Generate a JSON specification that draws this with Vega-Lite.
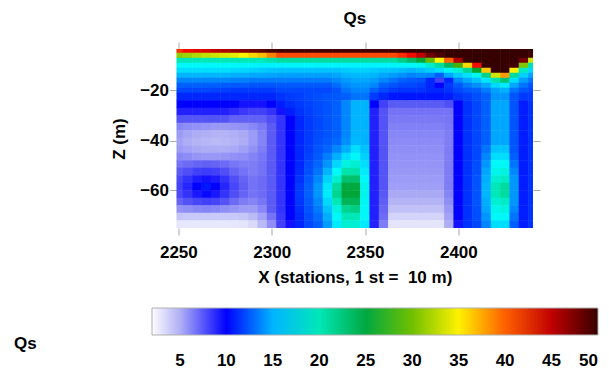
{
"$schema": "https://vega.github.io/schema/vega-lite/v6.json",
"width": 356.5,
"height": 179,
"autosize": {"type": "none"},
"padding": {"left": 176.5, "top": 49, "right": 76, "bottom": 146},
"background": "white",
"config": {"view": {"stroke": null}, "font": "Liberation Sans"},
"title": {"text": "Qs", "fontSize": 17, "fontWeight": "bold", "color": "black", "anchor": "middle", "frame": "group", "offset": 14},
"data": {"values": [
{"x":2250,"z":-4,"q":42},{"x":2250,"z":-6,"q":31},{"x":2250,"z":-8,"q":20},{"x":2250,"z":-10,"q":17.5},{"x":2250,"z":-12,"q":16.5},{"x":2250,"z":-14,"q":15},{"x":2250,"z":-16,"q":13.5},{"x":2250,"z":-18,"q":12.5},{"x":2250,"z":-20,"q":11.5},{"x":2250,"z":-22.5,"q":10.5},{"x":2250,"z":-25.5,"q":10},{"x":2250,"z":-28.5,"q":9.5},{"x":2250,"z":-31.5,"q":7.8},{"x":2250,"z":-34.5,"q":6.2},{"x":2250,"z":-37.5,"q":5.6},{"x":2250,"z":-40.5,"q":5.4},{"x":2250,"z":-43.5,"q":5.6},{"x":2250,"z":-46.5,"q":6.2},{"x":2250,"z":-49.5,"q":6.8},{"x":2250,"z":-52.5,"q":7.5},{"x":2250,"z":-55.5,"q":8.2},{"x":2250,"z":-58.5,"q":8.5},{"x":2250,"z":-61.5,"q":8.2},{"x":2250,"z":-64.5,"q":7.2},{"x":2250,"z":-67.5,"q":5.8},{"x":2250,"z":-70.5,"q":4.4},{"x":2250,"z":-73.5,"q":3.4},
{"x":2255,"z":-4,"q":43},{"x":2255,"z":-6,"q":31.5},{"x":2255,"z":-8,"q":20},{"x":2255,"z":-10,"q":17.5},{"x":2255,"z":-12,"q":16.5},{"x":2255,"z":-14,"q":15},{"x":2255,"z":-16,"q":13.5},{"x":2255,"z":-18,"q":12.5},{"x":2255,"z":-20,"q":11.5},{"x":2255,"z":-22.5,"q":10.5},{"x":2255,"z":-25.5,"q":10},{"x":2255,"z":-28.5,"q":9.5},{"x":2255,"z":-31.5,"q":7.8},{"x":2255,"z":-34.5,"q":6},{"x":2255,"z":-37.5,"q":5.3},{"x":2255,"z":-40.5,"q":5.1},{"x":2255,"z":-43.5,"q":5.4},{"x":2255,"z":-46.5,"q":6},{"x":2255,"z":-49.5,"q":7},{"x":2255,"z":-52.5,"q":8},{"x":2255,"z":-55.5,"q":9},{"x":2255,"z":-58.5,"q":9.4},{"x":2255,"z":-61.5,"q":9},{"x":2255,"z":-64.5,"q":7.8},{"x":2255,"z":-67.5,"q":6},{"x":2255,"z":-70.5,"q":4.3},{"x":2255,"z":-73.5,"q":3.3},
{"x":2260,"z":-4,"q":43.5},{"x":2260,"z":-6,"q":32},{"x":2260,"z":-8,"q":20},{"x":2260,"z":-10,"q":17.5},{"x":2260,"z":-12,"q":16.5},{"x":2260,"z":-14,"q":15},{"x":2260,"z":-16,"q":13.5},{"x":2260,"z":-18,"q":12.5},{"x":2260,"z":-20,"q":11.5},{"x":2260,"z":-22.5,"q":10.5},{"x":2260,"z":-25.5,"q":10},{"x":2260,"z":-28.5,"q":9.5},{"x":2260,"z":-31.5,"q":7.8},{"x":2260,"z":-34.5,"q":5.9},{"x":2260,"z":-37.5,"q":5.1},{"x":2260,"z":-40.5,"q":4.9},{"x":2260,"z":-43.5,"q":5.2},{"x":2260,"z":-46.5,"q":5.8},{"x":2260,"z":-49.5,"q":7.2},{"x":2260,"z":-52.5,"q":8.5},{"x":2260,"z":-55.5,"q":9.6},{"x":2260,"z":-58.5,"q":10},{"x":2260,"z":-61.5,"q":9.7},{"x":2260,"z":-64.5,"q":8.3},{"x":2260,"z":-67.5,"q":6.2},{"x":2260,"z":-70.5,"q":4.3},{"x":2260,"z":-73.5,"q":3.3},
{"x":2265,"z":-4,"q":44},{"x":2265,"z":-6,"q":32.5},{"x":2265,"z":-8,"q":20},{"x":2265,"z":-10,"q":17.5},{"x":2265,"z":-12,"q":16.5},{"x":2265,"z":-14,"q":15},{"x":2265,"z":-16,"q":13.5},{"x":2265,"z":-18,"q":12.5},{"x":2265,"z":-20,"q":11.5},{"x":2265,"z":-22.5,"q":10.5},{"x":2265,"z":-25.5,"q":10},{"x":2265,"z":-28.5,"q":9.5},{"x":2265,"z":-31.5,"q":7.8},{"x":2265,"z":-34.5,"q":5.8},{"x":2265,"z":-37.5,"q":5},{"x":2265,"z":-40.5,"q":4.8},{"x":2265,"z":-43.5,"q":5.1},{"x":2265,"z":-46.5,"q":5.7},{"x":2265,"z":-49.5,"q":7.3},{"x":2265,"z":-52.5,"q":8.7},{"x":2265,"z":-55.5,"q":9.8},{"x":2265,"z":-58.5,"q":10.2},{"x":2265,"z":-61.5,"q":9.9},{"x":2265,"z":-64.5,"q":8.5},{"x":2265,"z":-67.5,"q":6.3},{"x":2265,"z":-70.5,"q":4.3},{"x":2265,"z":-73.5,"q":3.3},
{"x":2270,"z":-4,"q":45},{"x":2270,"z":-6,"q":33},{"x":2270,"z":-8,"q":20},{"x":2270,"z":-10,"q":17.5},{"x":2270,"z":-12,"q":16.5},{"x":2270,"z":-14,"q":15},{"x":2270,"z":-16,"q":13.5},{"x":2270,"z":-18,"q":12.5},{"x":2270,"z":-20,"q":11.3},{"x":2270,"z":-22.5,"q":10.5},{"x":2270,"z":-25.5,"q":10},{"x":2270,"z":-28.5,"q":9.5},{"x":2270,"z":-31.5,"q":7.8},{"x":2270,"z":-34.5,"q":5.7},{"x":2270,"z":-37.5,"q":4.9},{"x":2270,"z":-40.5,"q":4.7},{"x":2270,"z":-43.5,"q":5.1},{"x":2270,"z":-46.5,"q":5.7},{"x":2270,"z":-49.5,"q":7.2},{"x":2270,"z":-52.5,"q":8.5},{"x":2270,"z":-55.5,"q":9.6},{"x":2270,"z":-58.5,"q":10},{"x":2270,"z":-61.5,"q":9.7},{"x":2270,"z":-64.5,"q":8.3},{"x":2270,"z":-67.5,"q":6.2},{"x":2270,"z":-70.5,"q":4.3},{"x":2270,"z":-73.5,"q":3.3},
{"x":2275,"z":-4,"q":45.5},{"x":2275,"z":-6,"q":33.5},{"x":2275,"z":-8,"q":20},{"x":2275,"z":-10,"q":17.5},{"x":2275,"z":-12,"q":16.5},{"x":2275,"z":-14,"q":15},{"x":2275,"z":-16,"q":13.5},{"x":2275,"z":-18,"q":12.3},{"x":2275,"z":-20,"q":11.2},{"x":2275,"z":-22.5,"q":10.5},{"x":2275,"z":-25.5,"q":10},{"x":2275,"z":-28.5,"q":9.5},{"x":2275,"z":-31.5,"q":7.8},{"x":2275,"z":-34.5,"q":5.7},{"x":2275,"z":-37.5,"q":4.9},{"x":2275,"z":-40.5,"q":4.8},{"x":2275,"z":-43.5,"q":5.1},{"x":2275,"z":-46.5,"q":5.8},{"x":2275,"z":-49.5,"q":7},{"x":2275,"z":-52.5,"q":8},{"x":2275,"z":-55.5,"q":9},{"x":2275,"z":-58.5,"q":9.4},{"x":2275,"z":-61.5,"q":9},{"x":2275,"z":-64.5,"q":7.8},{"x":2275,"z":-67.5,"q":6},{"x":2275,"z":-70.5,"q":4.3},{"x":2275,"z":-73.5,"q":3.3},
{"x":2280,"z":-4,"q":46},{"x":2280,"z":-6,"q":34},{"x":2280,"z":-8,"q":20},{"x":2280,"z":-10,"q":17.5},{"x":2280,"z":-12,"q":16.3},{"x":2280,"z":-14,"q":14.8},{"x":2280,"z":-16,"q":13.3},{"x":2280,"z":-18,"q":12.2},{"x":2280,"z":-20,"q":11},{"x":2280,"z":-22.5,"q":10.5},{"x":2280,"z":-25.5,"q":10},{"x":2280,"z":-28.5,"q":9.2},{"x":2280,"z":-31.5,"q":7.3},{"x":2280,"z":-34.5,"q":5.8},{"x":2280,"z":-37.5,"q":5},{"x":2280,"z":-40.5,"q":4.9},{"x":2280,"z":-43.5,"q":5.2},{"x":2280,"z":-46.5,"q":5.9},{"x":2280,"z":-49.5,"q":6.7},{"x":2280,"z":-52.5,"q":7.2},{"x":2280,"z":-55.5,"q":8},{"x":2280,"z":-58.5,"q":8.3},{"x":2280,"z":-61.5,"q":8},{"x":2280,"z":-64.5,"q":7},{"x":2280,"z":-67.5,"q":5.8},{"x":2280,"z":-70.5,"q":4.3},{"x":2280,"z":-73.5,"q":3.4},
{"x":2285,"z":-4,"q":46.5},{"x":2285,"z":-6,"q":35},{"x":2285,"z":-8,"q":20},{"x":2285,"z":-10,"q":17.5},{"x":2285,"z":-12,"q":16.2},{"x":2285,"z":-14,"q":14.8},{"x":2285,"z":-16,"q":13.3},{"x":2285,"z":-18,"q":12.2},{"x":2285,"z":-20,"q":11},{"x":2285,"z":-22.5,"q":10.5},{"x":2285,"z":-25.5,"q":9.8},{"x":2285,"z":-28.5,"q":8.8},{"x":2285,"z":-31.5,"q":7.3},{"x":2285,"z":-34.5,"q":5.9},{"x":2285,"z":-37.5,"q":5.2},{"x":2285,"z":-40.5,"q":5.1},{"x":2285,"z":-43.5,"q":5.5},{"x":2285,"z":-46.5,"q":6},{"x":2285,"z":-49.5,"q":6.5},{"x":2285,"z":-52.5,"q":6.8},{"x":2285,"z":-55.5,"q":7.2},{"x":2285,"z":-58.5,"q":7.4},{"x":2285,"z":-61.5,"q":7.2},{"x":2285,"z":-64.5,"q":6.5},{"x":2285,"z":-67.5,"q":5.6},{"x":2285,"z":-70.5,"q":4.4},{"x":2285,"z":-73.5,"q":3.5},
{"x":2290,"z":-4,"q":47},{"x":2290,"z":-6,"q":36},{"x":2290,"z":-8,"q":20},{"x":2290,"z":-10,"q":17.3},{"x":2290,"z":-12,"q":16},{"x":2290,"z":-14,"q":14.6},{"x":2290,"z":-16,"q":13.2},{"x":2290,"z":-18,"q":12},{"x":2290,"z":-20,"q":11},{"x":2290,"z":-22.5,"q":10.5},{"x":2290,"z":-25.5,"q":9.8},{"x":2290,"z":-28.5,"q":8.5},{"x":2290,"z":-31.5,"q":7.3},{"x":2290,"z":-34.5,"q":6.2},{"x":2290,"z":-37.5,"q":5.6},{"x":2290,"z":-40.5,"q":5.6},{"x":2290,"z":-43.5,"q":5.9},{"x":2290,"z":-46.5,"q":6.3},{"x":2290,"z":-49.5,"q":6.5},{"x":2290,"z":-52.5,"q":6.5},{"x":2290,"z":-55.5,"q":6.8},{"x":2290,"z":-58.5,"q":6.8},{"x":2290,"z":-61.5,"q":6.8},{"x":2290,"z":-64.5,"q":6.3},{"x":2290,"z":-67.5,"q":5.6},{"x":2290,"z":-70.5,"q":4.7},{"x":2290,"z":-73.5,"q":3.8},
{"x":2295,"z":-4,"q":47.5},{"x":2295,"z":-6,"q":37},{"x":2295,"z":-8,"q":20},{"x":2295,"z":-10,"q":17.2},{"x":2295,"z":-12,"q":15.8},{"x":2295,"z":-14,"q":14.5},{"x":2295,"z":-16,"q":13.2},{"x":2295,"z":-18,"q":12},{"x":2295,"z":-20,"q":11},{"x":2295,"z":-22.5,"q":10.5},{"x":2295,"z":-25.5,"q":9.8},{"x":2295,"z":-28.5,"q":8.5},{"x":2295,"z":-31.5,"q":7.3},{"x":2295,"z":-34.5,"q":6.6},{"x":2295,"z":-37.5,"q":6.3},{"x":2295,"z":-40.5,"q":6.3},{"x":2295,"z":-43.5,"q":6.5},{"x":2295,"z":-46.5,"q":6.7},{"x":2295,"z":-49.5,"q":6.8},{"x":2295,"z":-52.5,"q":6.8},{"x":2295,"z":-55.5,"q":7},{"x":2295,"z":-58.5,"q":7},{"x":2295,"z":-61.5,"q":7},{"x":2295,"z":-64.5,"q":6.7},{"x":2295,"z":-67.5,"q":6.2},{"x":2295,"z":-70.5,"q":5.4},{"x":2295,"z":-73.5,"q":4.7},
{"x":2300,"z":-4,"q":48.5},{"x":2300,"z":-6,"q":39},{"x":2300,"z":-8,"q":20.5},{"x":2300,"z":-10,"q":17.2},{"x":2300,"z":-12,"q":15.6},{"x":2300,"z":-14,"q":14.4},{"x":2300,"z":-16,"q":13.2},{"x":2300,"z":-18,"q":12},{"x":2300,"z":-20,"q":11},{"x":2300,"z":-22.5,"q":10.5},{"x":2300,"z":-25.5,"q":10},{"x":2300,"z":-28.5,"q":9},{"x":2300,"z":-31.5,"q":8},{"x":2300,"z":-34.5,"q":7.5},{"x":2300,"z":-37.5,"q":7.5},{"x":2300,"z":-40.5,"q":7.5},{"x":2300,"z":-43.5,"q":7.5},{"x":2300,"z":-46.5,"q":7.5},{"x":2300,"z":-49.5,"q":7.5},{"x":2300,"z":-52.5,"q":7.5},{"x":2300,"z":-55.5,"q":7.5},{"x":2300,"z":-58.5,"q":7.5},{"x":2300,"z":-61.5,"q":7.5},{"x":2300,"z":-64.5,"q":7.5},{"x":2300,"z":-67.5,"q":7.5},{"x":2300,"z":-70.5,"q":6.8},{"x":2300,"z":-73.5,"q":6},
{"x":2305,"z":-4,"q":49},{"x":2305,"z":-6,"q":41},{"x":2305,"z":-8,"q":21},{"x":2305,"z":-10,"q":17.3},{"x":2305,"z":-12,"q":15.5},{"x":2305,"z":-14,"q":14.3},{"x":2305,"z":-16,"q":13.2},{"x":2305,"z":-18,"q":12.2},{"x":2305,"z":-20,"q":11.5},{"x":2305,"z":-22.5,"q":10.8},{"x":2305,"z":-25.5,"q":10.3},{"x":2305,"z":-28.5,"q":9.8},{"x":2305,"z":-31.5,"q":9},{"x":2305,"z":-34.5,"q":9},{"x":2305,"z":-37.5,"q":9},{"x":2305,"z":-40.5,"q":9},{"x":2305,"z":-43.5,"q":9},{"x":2305,"z":-46.5,"q":9},{"x":2305,"z":-49.5,"q":9},{"x":2305,"z":-52.5,"q":9},{"x":2305,"z":-55.5,"q":9},{"x":2305,"z":-58.5,"q":9},{"x":2305,"z":-61.5,"q":9},{"x":2305,"z":-64.5,"q":9},{"x":2305,"z":-67.5,"q":9},{"x":2305,"z":-70.5,"q":8.8},{"x":2305,"z":-73.5,"q":8.5},
{"x":2310,"z":-4,"q":49},{"x":2310,"z":-6,"q":41},{"x":2310,"z":-8,"q":21},{"x":2310,"z":-10,"q":17.3},{"x":2310,"z":-12,"q":15.5},{"x":2310,"z":-14,"q":14.3},{"x":2310,"z":-16,"q":13.2},{"x":2310,"z":-18,"q":12.2},{"x":2310,"z":-20,"q":11.5},{"x":2310,"z":-22.5,"q":11},{"x":2310,"z":-25.5,"q":10.7},{"x":2310,"z":-28.5,"q":10.3},{"x":2310,"z":-31.5,"q":10},{"x":2310,"z":-34.5,"q":10},{"x":2310,"z":-37.5,"q":10},{"x":2310,"z":-40.5,"q":10},{"x":2310,"z":-43.5,"q":10},{"x":2310,"z":-46.5,"q":10},{"x":2310,"z":-49.5,"q":10},{"x":2310,"z":-52.5,"q":10},{"x":2310,"z":-55.5,"q":10},{"x":2310,"z":-58.5,"q":10},{"x":2310,"z":-61.5,"q":10},{"x":2310,"z":-64.5,"q":10},{"x":2310,"z":-67.5,"q":10},{"x":2310,"z":-70.5,"q":10},{"x":2310,"z":-73.5,"q":9.8},
{"x":2315,"z":-4,"q":49},{"x":2315,"z":-6,"q":41},{"x":2315,"z":-8,"q":21},{"x":2315,"z":-10,"q":17.3},{"x":2315,"z":-12,"q":15.5},{"x":2315,"z":-14,"q":14.3},{"x":2315,"z":-16,"q":13.2},{"x":2315,"z":-18,"q":12.2},{"x":2315,"z":-20,"q":11.5},{"x":2315,"z":-22.5,"q":11.2},{"x":2315,"z":-25.5,"q":11},{"x":2315,"z":-28.5,"q":10.8},{"x":2315,"z":-31.5,"q":10.5},{"x":2315,"z":-34.5,"q":10.5},{"x":2315,"z":-37.5,"q":10.5},{"x":2315,"z":-40.5,"q":10.5},{"x":2315,"z":-43.5,"q":10.5},{"x":2315,"z":-46.5,"q":10.5},{"x":2315,"z":-49.5,"q":10.5},{"x":2315,"z":-52.5,"q":10.6},{"x":2315,"z":-55.5,"q":10.8},{"x":2315,"z":-58.5,"q":11},{"x":2315,"z":-61.5,"q":11},{"x":2315,"z":-64.5,"q":10.9},{"x":2315,"z":-67.5,"q":10.7},{"x":2315,"z":-70.5,"q":10.5},{"x":2315,"z":-73.5,"q":10.5},
{"x":2320,"z":-4,"q":49},{"x":2320,"z":-6,"q":41},{"x":2320,"z":-8,"q":21},{"x":2320,"z":-10,"q":17.3},{"x":2320,"z":-12,"q":15.5},{"x":2320,"z":-14,"q":14.3},{"x":2320,"z":-16,"q":13.2},{"x":2320,"z":-18,"q":12.2},{"x":2320,"z":-20,"q":11.5},{"x":2320,"z":-22.5,"q":11.5},{"x":2320,"z":-25.5,"q":11.3},{"x":2320,"z":-28.5,"q":11.2},{"x":2320,"z":-31.5,"q":11},{"x":2320,"z":-34.5,"q":11},{"x":2320,"z":-37.5,"q":11},{"x":2320,"z":-40.5,"q":11},{"x":2320,"z":-43.5,"q":11.1},{"x":2320,"z":-46.5,"q":11.3},{"x":2320,"z":-49.5,"q":11.6},{"x":2320,"z":-52.5,"q":11.9},{"x":2320,"z":-55.5,"q":12.2},{"x":2320,"z":-58.5,"q":12.5},{"x":2320,"z":-61.5,"q":12.5},{"x":2320,"z":-64.5,"q":12.3},{"x":2320,"z":-67.5,"q":12},{"x":2320,"z":-70.5,"q":11.7},{"x":2320,"z":-73.5,"q":11.5},
{"x":2325,"z":-4,"q":49},{"x":2325,"z":-6,"q":41},{"x":2325,"z":-8,"q":21},{"x":2325,"z":-10,"q":17.3},{"x":2325,"z":-12,"q":15.5},{"x":2325,"z":-14,"q":14.3},{"x":2325,"z":-16,"q":13.2},{"x":2325,"z":-18,"q":12.2},{"x":2325,"z":-20,"q":11.5},{"x":2325,"z":-22.5,"q":11.8},{"x":2325,"z":-25.5,"q":11.7},{"x":2325,"z":-28.5,"q":11.6},{"x":2325,"z":-31.5,"q":11.5},{"x":2325,"z":-34.5,"q":11.5},{"x":2325,"z":-37.5,"q":11.6},{"x":2325,"z":-40.5,"q":11.8},{"x":2325,"z":-43.5,"q":12},{"x":2325,"z":-46.5,"q":12.3},{"x":2325,"z":-49.5,"q":12.6},{"x":2325,"z":-52.5,"q":13},{"x":2325,"z":-55.5,"q":13.5},{"x":2325,"z":-58.5,"q":14},{"x":2325,"z":-61.5,"q":14},{"x":2325,"z":-64.5,"q":13.6},{"x":2325,"z":-67.5,"q":13.2},{"x":2325,"z":-70.5,"q":12.8},{"x":2325,"z":-73.5,"q":12.5},
{"x":2330,"z":-4,"q":49},{"x":2330,"z":-6,"q":41},{"x":2330,"z":-8,"q":21},{"x":2330,"z":-10,"q":17.3},{"x":2330,"z":-12,"q":15.5},{"x":2330,"z":-14,"q":14.3},{"x":2330,"z":-16,"q":13.2},{"x":2330,"z":-18,"q":12.2},{"x":2330,"z":-20,"q":11.5},{"x":2330,"z":-22.5,"q":12},{"x":2330,"z":-25.5,"q":12},{"x":2330,"z":-28.5,"q":12},{"x":2330,"z":-31.5,"q":12},{"x":2330,"z":-34.5,"q":12},{"x":2330,"z":-37.5,"q":12},{"x":2330,"z":-40.5,"q":12.2},{"x":2330,"z":-43.5,"q":12.6},{"x":2330,"z":-46.5,"q":13.3},{"x":2330,"z":-49.5,"q":14},{"x":2330,"z":-52.5,"q":15},{"x":2330,"z":-55.5,"q":16},{"x":2330,"z":-58.5,"q":16.8},{"x":2330,"z":-61.5,"q":17},{"x":2330,"z":-64.5,"q":16.3},{"x":2330,"z":-67.5,"q":15.5},{"x":2330,"z":-70.5,"q":14.8},{"x":2330,"z":-73.5,"q":14.2},
{"x":2335,"z":-4,"q":49},{"x":2335,"z":-6,"q":41},{"x":2335,"z":-8,"q":21},{"x":2335,"z":-10,"q":17.3},{"x":2335,"z":-12,"q":15.5},{"x":2335,"z":-14,"q":14.5},{"x":2335,"z":-16,"q":13.6},{"x":2335,"z":-18,"q":12.8},{"x":2335,"z":-20,"q":12},{"x":2335,"z":-22.5,"q":12.2},{"x":2335,"z":-25.5,"q":12.5},{"x":2335,"z":-28.5,"q":12.5},{"x":2335,"z":-31.5,"q":12.5},{"x":2335,"z":-34.5,"q":12.5},{"x":2335,"z":-37.5,"q":12.5},{"x":2335,"z":-40.5,"q":12.7},{"x":2335,"z":-43.5,"q":13.5},{"x":2335,"z":-46.5,"q":14.8},{"x":2335,"z":-49.5,"q":16.2},{"x":2335,"z":-52.5,"q":17.5},{"x":2335,"z":-55.5,"q":19},{"x":2335,"z":-58.5,"q":21},{"x":2335,"z":-61.5,"q":21.5},{"x":2335,"z":-64.5,"q":20},{"x":2335,"z":-67.5,"q":18.5},{"x":2335,"z":-70.5,"q":17.5},{"x":2335,"z":-73.5,"q":17},
{"x":2340,"z":-4,"q":49},{"x":2340,"z":-6,"q":41},{"x":2340,"z":-8,"q":21},{"x":2340,"z":-10,"q":17.3},{"x":2340,"z":-12,"q":15.8},{"x":2340,"z":-14,"q":15},{"x":2340,"z":-16,"q":14.2},{"x":2340,"z":-18,"q":13.6},{"x":2340,"z":-20,"q":13},{"x":2340,"z":-22.5,"q":12.5},{"x":2340,"z":-25.5,"q":13.5},{"x":2340,"z":-28.5,"q":13.5},{"x":2340,"z":-31.5,"q":13.5},{"x":2340,"z":-34.5,"q":13.5},{"x":2340,"z":-37.5,"q":13.5},{"x":2340,"z":-40.5,"q":13.8},{"x":2340,"z":-43.5,"q":14.8},{"x":2340,"z":-46.5,"q":16.5},{"x":2340,"z":-49.5,"q":18.5},{"x":2340,"z":-52.5,"q":20.5},{"x":2340,"z":-55.5,"q":23},{"x":2340,"z":-58.5,"q":25},{"x":2340,"z":-61.5,"q":25.5},{"x":2340,"z":-64.5,"q":24},{"x":2340,"z":-67.5,"q":21.5},{"x":2340,"z":-70.5,"q":20},{"x":2340,"z":-73.5,"q":19},
{"x":2345,"z":-4,"q":49},{"x":2345,"z":-6,"q":41},{"x":2345,"z":-8,"q":21},{"x":2345,"z":-10,"q":17.3},{"x":2345,"z":-12,"q":16},{"x":2345,"z":-14,"q":15.2},{"x":2345,"z":-16,"q":14.5},{"x":2345,"z":-18,"q":14},{"x":2345,"z":-20,"q":13.5},{"x":2345,"z":-22.5,"q":13},{"x":2345,"z":-25.5,"q":15},{"x":2345,"z":-28.5,"q":15},{"x":2345,"z":-31.5,"q":15},{"x":2345,"z":-34.5,"q":15},{"x":2345,"z":-37.5,"q":15},{"x":2345,"z":-40.5,"q":15.2},{"x":2345,"z":-43.5,"q":16.5},{"x":2345,"z":-46.5,"q":17.5},{"x":2345,"z":-49.5,"q":19},{"x":2345,"z":-52.5,"q":20.5},{"x":2345,"z":-55.5,"q":23},{"x":2345,"z":-58.5,"q":25},{"x":2345,"z":-61.5,"q":25.5},{"x":2345,"z":-64.5,"q":24},{"x":2345,"z":-67.5,"q":22},{"x":2345,"z":-70.5,"q":20},{"x":2345,"z":-73.5,"q":19},
{"x":2350,"z":-4,"q":49},{"x":2350,"z":-6,"q":41},{"x":2350,"z":-8,"q":21},{"x":2350,"z":-10,"q":17.3},{"x":2350,"z":-12,"q":16},{"x":2350,"z":-14,"q":15.2},{"x":2350,"z":-16,"q":14.5},{"x":2350,"z":-18,"q":14},{"x":2350,"z":-20,"q":13.5},{"x":2350,"z":-22.5,"q":13},{"x":2350,"z":-25.5,"q":15},{"x":2350,"z":-28.5,"q":15},{"x":2350,"z":-31.5,"q":15},{"x":2350,"z":-34.5,"q":15},{"x":2350,"z":-37.5,"q":15},{"x":2350,"z":-40.5,"q":15},{"x":2350,"z":-43.5,"q":15.5},{"x":2350,"z":-46.5,"q":16},{"x":2350,"z":-49.5,"q":16.5},{"x":2350,"z":-52.5,"q":17},{"x":2350,"z":-55.5,"q":17.5},{"x":2350,"z":-58.5,"q":18},{"x":2350,"z":-61.5,"q":18},{"x":2350,"z":-64.5,"q":17.8},{"x":2350,"z":-67.5,"q":17.5},{"x":2350,"z":-70.5,"q":17.5},{"x":2350,"z":-73.5,"q":17},
{"x":2355,"z":-4,"q":49},{"x":2355,"z":-6,"q":41},{"x":2355,"z":-8,"q":21},{"x":2355,"z":-10,"q":17.3},{"x":2355,"z":-12,"q":15.8},{"x":2355,"z":-14,"q":15},{"x":2355,"z":-16,"q":14.2},{"x":2355,"z":-18,"q":13.5},{"x":2355,"z":-20,"q":12.5},{"x":2355,"z":-22.5,"q":11},{"x":2355,"z":-25.5,"q":10},{"x":2355,"z":-28.5,"q":9.5},{"x":2355,"z":-31.5,"q":9.5},{"x":2355,"z":-34.5,"q":9.5},{"x":2355,"z":-37.5,"q":9.5},{"x":2355,"z":-40.5,"q":9.5},{"x":2355,"z":-43.5,"q":9.5},{"x":2355,"z":-46.5,"q":9.5},{"x":2355,"z":-49.5,"q":9.5},{"x":2355,"z":-52.5,"q":9.5},{"x":2355,"z":-55.5,"q":9.5},{"x":2355,"z":-58.5,"q":9.5},{"x":2355,"z":-61.5,"q":9.5},{"x":2355,"z":-64.5,"q":9.5},{"x":2355,"z":-67.5,"q":9.5},{"x":2355,"z":-70.5,"q":9.5},{"x":2355,"z":-73.5,"q":9.5},
{"x":2360,"z":-4,"q":49},{"x":2360,"z":-6,"q":41},{"x":2360,"z":-8,"q":21},{"x":2360,"z":-10,"q":17.3},{"x":2360,"z":-12,"q":15.6},{"x":2360,"z":-14,"q":14.5},{"x":2360,"z":-16,"q":13.5},{"x":2360,"z":-18,"q":12.5},{"x":2360,"z":-20,"q":11.5},{"x":2360,"z":-22.5,"q":10.5},{"x":2360,"z":-25.5,"q":8.5},{"x":2360,"z":-28.5,"q":7.8},{"x":2360,"z":-31.5,"q":7.8},{"x":2360,"z":-34.5,"q":7.8},{"x":2360,"z":-37.5,"q":7.8},{"x":2360,"z":-40.5,"q":7.8},{"x":2360,"z":-43.5,"q":7.8},{"x":2360,"z":-46.5,"q":7.8},{"x":2360,"z":-49.5,"q":7.8},{"x":2360,"z":-52.5,"q":7.8},{"x":2360,"z":-55.5,"q":7.8},{"x":2360,"z":-58.5,"q":7.8},{"x":2360,"z":-61.5,"q":7.6},{"x":2360,"z":-64.5,"q":7.4},{"x":2360,"z":-67.5,"q":7.2},{"x":2360,"z":-70.5,"q":7},{"x":2360,"z":-73.5,"q":6.5},
{"x":2365,"z":-4,"q":49},{"x":2365,"z":-6,"q":41},{"x":2365,"z":-8,"q":21},{"x":2365,"z":-10,"q":17.3},{"x":2365,"z":-12,"q":15.5},{"x":2365,"z":-14,"q":14.2},{"x":2365,"z":-16,"q":13},{"x":2365,"z":-18,"q":12},{"x":2365,"z":-20,"q":11},{"x":2365,"z":-22.5,"q":10.2},{"x":2365,"z":-25.5,"q":7.5},{"x":2365,"z":-28.5,"q":6.8},{"x":2365,"z":-31.5,"q":6.6},{"x":2365,"z":-34.5,"q":6.4},{"x":2365,"z":-37.5,"q":6.2},{"x":2365,"z":-40.5,"q":6.1},{"x":2365,"z":-43.5,"q":6},{"x":2365,"z":-46.5,"q":5.9},{"x":2365,"z":-49.5,"q":5.8},{"x":2365,"z":-52.5,"q":5.7},{"x":2365,"z":-55.5,"q":5.6},{"x":2365,"z":-58.5,"q":5.5},{"x":2365,"z":-61.5,"q":5.2},{"x":2365,"z":-64.5,"q":4.9},{"x":2365,"z":-67.5,"q":4.5},{"x":2365,"z":-70.5,"q":4},{"x":2365,"z":-73.5,"q":3.5},
{"x":2370,"z":-4,"q":49.5},{"x":2370,"z":-6,"q":42},{"x":2370,"z":-8,"q":22},{"x":2370,"z":-10,"q":17.4},{"x":2370,"z":-12,"q":15.3},{"x":2370,"z":-14,"q":13.8},{"x":2370,"z":-16,"q":12.5},{"x":2370,"z":-18,"q":11.5},{"x":2370,"z":-20,"q":10.8},{"x":2370,"z":-22.5,"q":10.2},{"x":2370,"z":-25.5,"q":7.5},{"x":2370,"z":-28.5,"q":6.8},{"x":2370,"z":-31.5,"q":6.6},{"x":2370,"z":-34.5,"q":6.4},{"x":2370,"z":-37.5,"q":6.2},{"x":2370,"z":-40.5,"q":6.1},{"x":2370,"z":-43.5,"q":6},{"x":2370,"z":-46.5,"q":5.9},{"x":2370,"z":-49.5,"q":5.8},{"x":2370,"z":-52.5,"q":5.7},{"x":2370,"z":-55.5,"q":5.6},{"x":2370,"z":-58.5,"q":5.5},{"x":2370,"z":-61.5,"q":5.2},{"x":2370,"z":-64.5,"q":4.9},{"x":2370,"z":-67.5,"q":4.5},{"x":2370,"z":-70.5,"q":4},{"x":2370,"z":-73.5,"q":3.5},
{"x":2375,"z":-4,"q":50},{"x":2375,"z":-6,"q":43},{"x":2375,"z":-8,"q":23.5},{"x":2375,"z":-10,"q":17.5},{"x":2375,"z":-12,"q":15},{"x":2375,"z":-14,"q":13.4},{"x":2375,"z":-16,"q":12.2},{"x":2375,"z":-18,"q":11.5},{"x":2375,"z":-20,"q":10.8},{"x":2375,"z":-22.5,"q":10.2},{"x":2375,"z":-25.5,"q":7.5},{"x":2375,"z":-28.5,"q":6.8},{"x":2375,"z":-31.5,"q":6.6},{"x":2375,"z":-34.5,"q":6.4},{"x":2375,"z":-37.5,"q":6.2},{"x":2375,"z":-40.5,"q":6.1},{"x":2375,"z":-43.5,"q":6},{"x":2375,"z":-46.5,"q":5.9},{"x":2375,"z":-49.5,"q":5.8},{"x":2375,"z":-52.5,"q":5.7},{"x":2375,"z":-55.5,"q":5.6},{"x":2375,"z":-58.5,"q":5.5},{"x":2375,"z":-61.5,"q":5.2},{"x":2375,"z":-64.5,"q":4.9},{"x":2375,"z":-67.5,"q":4.5},{"x":2375,"z":-70.5,"q":4},{"x":2375,"z":-73.5,"q":3.5},
{"x":2380,"z":-4,"q":50},{"x":2380,"z":-6,"q":45},{"x":2380,"z":-8,"q":25.4},{"x":2380,"z":-10,"q":17.8},{"x":2380,"z":-12,"q":15.4},{"x":2380,"z":-14,"q":13.7},{"x":2380,"z":-16,"q":12},{"x":2380,"z":-18,"q":11.2},{"x":2380,"z":-20,"q":10.8},{"x":2380,"z":-22.5,"q":10.2},{"x":2380,"z":-25.5,"q":7.5},{"x":2380,"z":-28.5,"q":6.8},{"x":2380,"z":-31.5,"q":6.6},{"x":2380,"z":-34.5,"q":6.4},{"x":2380,"z":-37.5,"q":6.2},{"x":2380,"z":-40.5,"q":6.1},{"x":2380,"z":-43.5,"q":6},{"x":2380,"z":-46.5,"q":5.9},{"x":2380,"z":-49.5,"q":5.8},{"x":2380,"z":-52.5,"q":5.7},{"x":2380,"z":-55.5,"q":5.6},{"x":2380,"z":-58.5,"q":5.5},{"x":2380,"z":-61.5,"q":5.2},{"x":2380,"z":-64.5,"q":4.9},{"x":2380,"z":-67.5,"q":4.5},{"x":2380,"z":-70.5,"q":4},{"x":2380,"z":-73.5,"q":3.5},
{"x":2385,"z":-4,"q":50},{"x":2385,"z":-6,"q":47},{"x":2385,"z":-8,"q":29.6},{"x":2385,"z":-10,"q":19.2},{"x":2385,"z":-12,"q":15.9},{"x":2385,"z":-14,"q":13.5},{"x":2385,"z":-16,"q":10.5},{"x":2385,"z":-18,"q":10.5},{"x":2385,"z":-20,"q":10.5},{"x":2385,"z":-22.5,"q":10.2},{"x":2385,"z":-25.5,"q":7.5},{"x":2385,"z":-28.5,"q":6.8},{"x":2385,"z":-31.5,"q":6.6},{"x":2385,"z":-34.5,"q":6.4},{"x":2385,"z":-37.5,"q":6.2},{"x":2385,"z":-40.5,"q":6.1},{"x":2385,"z":-43.5,"q":6},{"x":2385,"z":-46.5,"q":5.9},{"x":2385,"z":-49.5,"q":5.8},{"x":2385,"z":-52.5,"q":5.7},{"x":2385,"z":-55.5,"q":5.6},{"x":2385,"z":-58.5,"q":5.5},{"x":2385,"z":-61.5,"q":5.2},{"x":2385,"z":-64.5,"q":4.9},{"x":2385,"z":-67.5,"q":4.5},{"x":2385,"z":-70.5,"q":4},{"x":2385,"z":-73.5,"q":3.5},
{"x":2390,"z":-4,"q":50},{"x":2390,"z":-6,"q":48.5},{"x":2390,"z":-8,"q":35},{"x":2390,"z":-10,"q":21},{"x":2390,"z":-12,"q":16.5},{"x":2390,"z":-14,"q":12.5},{"x":2390,"z":-16,"q":8.5},{"x":2390,"z":-18,"q":10},{"x":2390,"z":-20,"q":10.5},{"x":2390,"z":-22.5,"q":10.2},{"x":2390,"z":-25.5,"q":7.5},{"x":2390,"z":-28.5,"q":6.8},{"x":2390,"z":-31.5,"q":6.6},{"x":2390,"z":-34.5,"q":6.4},{"x":2390,"z":-37.5,"q":6.2},{"x":2390,"z":-40.5,"q":6.1},{"x":2390,"z":-43.5,"q":6},{"x":2390,"z":-46.5,"q":5.9},{"x":2390,"z":-49.5,"q":5.8},{"x":2390,"z":-52.5,"q":5.7},{"x":2390,"z":-55.5,"q":5.6},{"x":2390,"z":-58.5,"q":5.5},{"x":2390,"z":-61.5,"q":5.2},{"x":2390,"z":-64.5,"q":4.9},{"x":2390,"z":-67.5,"q":4.5},{"x":2390,"z":-70.5,"q":4},{"x":2390,"z":-73.5,"q":3.5},
{"x":2395,"z":-4,"q":50},{"x":2395,"z":-6,"q":50},{"x":2395,"z":-8,"q":40},{"x":2395,"z":-10,"q":23.6},{"x":2395,"z":-12,"q":17.4},{"x":2395,"z":-14,"q":14.5},{"x":2395,"z":-16,"q":10.5},{"x":2395,"z":-18,"q":11},{"x":2395,"z":-20,"q":10.8},{"x":2395,"z":-22.5,"q":10.3},{"x":2395,"z":-25.5,"q":8},{"x":2395,"z":-28.5,"q":6.8},{"x":2395,"z":-31.5,"q":6.7},{"x":2395,"z":-34.5,"q":6.6},{"x":2395,"z":-37.5,"q":6.5},{"x":2395,"z":-40.5,"q":6.5},{"x":2395,"z":-43.5,"q":6.5},{"x":2395,"z":-46.5,"q":6.5},{"x":2395,"z":-49.5,"q":6.5},{"x":2395,"z":-52.5,"q":6.5},{"x":2395,"z":-55.5,"q":6.5},{"x":2395,"z":-58.5,"q":6.5},{"x":2395,"z":-61.5,"q":6.3},{"x":2395,"z":-64.5,"q":6},{"x":2395,"z":-67.5,"q":5.7},{"x":2395,"z":-70.5,"q":5.4},{"x":2395,"z":-73.5,"q":5.1},
{"x":2400,"z":-4,"q":50},{"x":2400,"z":-6,"q":50},{"x":2400,"z":-8,"q":45.5},{"x":2400,"z":-10,"q":28.7},{"x":2400,"z":-12,"q":18.9},{"x":2400,"z":-14,"q":15.8},{"x":2400,"z":-16,"q":13.5},{"x":2400,"z":-18,"q":12.2},{"x":2400,"z":-20,"q":11.5},{"x":2400,"z":-22.5,"q":10.8},{"x":2400,"z":-25.5,"q":10},{"x":2400,"z":-28.5,"q":10},{"x":2400,"z":-31.5,"q":10},{"x":2400,"z":-34.5,"q":10},{"x":2400,"z":-37.5,"q":10},{"x":2400,"z":-40.5,"q":10},{"x":2400,"z":-43.5,"q":10},{"x":2400,"z":-46.5,"q":10},{"x":2400,"z":-49.5,"q":10},{"x":2400,"z":-52.5,"q":10},{"x":2400,"z":-55.5,"q":10},{"x":2400,"z":-58.5,"q":10},{"x":2400,"z":-61.5,"q":10},{"x":2400,"z":-64.5,"q":10},{"x":2400,"z":-67.5,"q":10},{"x":2400,"z":-70.5,"q":10},{"x":2400,"z":-73.5,"q":9.8},
{"x":2405,"z":-4,"q":50},{"x":2405,"z":-6,"q":50},{"x":2405,"z":-8,"q":50},{"x":2405,"z":-10,"q":36},{"x":2405,"z":-12,"q":21.4},{"x":2405,"z":-14,"q":16.6},{"x":2405,"z":-16,"q":14.6},{"x":2405,"z":-18,"q":13.2},{"x":2405,"z":-20,"q":12.2},{"x":2405,"z":-22.5,"q":11.2},{"x":2405,"z":-25.5,"q":10.8},{"x":2405,"z":-28.5,"q":10.8},{"x":2405,"z":-31.5,"q":10.8},{"x":2405,"z":-34.5,"q":10.8},{"x":2405,"z":-37.5,"q":10.8},{"x":2405,"z":-40.5,"q":10.8},{"x":2405,"z":-43.5,"q":10.8},{"x":2405,"z":-46.5,"q":10.8},{"x":2405,"z":-49.5,"q":10.8},{"x":2405,"z":-52.5,"q":10.8},{"x":2405,"z":-55.5,"q":10.8},{"x":2405,"z":-58.5,"q":10.8},{"x":2405,"z":-61.5,"q":10.8},{"x":2405,"z":-64.5,"q":10.8},{"x":2405,"z":-67.5,"q":10.8},{"x":2405,"z":-70.5,"q":10.8},{"x":2405,"z":-73.5,"q":10.8},
{"x":2410,"z":-4,"q":50},{"x":2410,"z":-6,"q":50},{"x":2410,"z":-8,"q":50},{"x":2410,"z":-10,"q":43},{"x":2410,"z":-12,"q":26},{"x":2410,"z":-14,"q":18},{"x":2410,"z":-16,"q":15.5},{"x":2410,"z":-18,"q":13.8},{"x":2410,"z":-20,"q":12.5},{"x":2410,"z":-22.5,"q":11.8},{"x":2410,"z":-25.5,"q":11.5},{"x":2410,"z":-28.5,"q":11.5},{"x":2410,"z":-31.5,"q":11.5},{"x":2410,"z":-34.5,"q":11.5},{"x":2410,"z":-37.5,"q":11.5},{"x":2410,"z":-40.5,"q":11.5},{"x":2410,"z":-43.5,"q":11.5},{"x":2410,"z":-46.5,"q":11.5},{"x":2410,"z":-49.5,"q":11.7},{"x":2410,"z":-52.5,"q":11.8},{"x":2410,"z":-55.5,"q":12},{"x":2410,"z":-58.5,"q":12},{"x":2410,"z":-61.5,"q":12},{"x":2410,"z":-64.5,"q":12},{"x":2410,"z":-67.5,"q":11.8},{"x":2410,"z":-70.5,"q":11.7},{"x":2410,"z":-73.5,"q":11.5},
{"x":2415,"z":-4,"q":50},{"x":2415,"z":-6,"q":50},{"x":2415,"z":-8,"q":50},{"x":2415,"z":-10,"q":50},{"x":2415,"z":-12,"q":36.6},{"x":2415,"z":-14,"q":21.8},{"x":2415,"z":-16,"q":16.8},{"x":2415,"z":-18,"q":14.7},{"x":2415,"z":-20,"q":13.2},{"x":2415,"z":-22.5,"q":12.5},{"x":2415,"z":-25.5,"q":12.5},{"x":2415,"z":-28.5,"q":12.5},{"x":2415,"z":-31.5,"q":12.5},{"x":2415,"z":-34.5,"q":12.5},{"x":2415,"z":-37.5,"q":12.5},{"x":2415,"z":-40.5,"q":12.5},{"x":2415,"z":-43.5,"q":13},{"x":2415,"z":-46.5,"q":13.5},{"x":2415,"z":-49.5,"q":14},{"x":2415,"z":-52.5,"q":14.5},{"x":2415,"z":-55.5,"q":14.8},{"x":2415,"z":-58.5,"q":15},{"x":2415,"z":-61.5,"q":15},{"x":2415,"z":-64.5,"q":14.8},{"x":2415,"z":-67.5,"q":14.5},{"x":2415,"z":-70.5,"q":14},{"x":2415,"z":-73.5,"q":13.5},
{"x":2420,"z":-4,"q":50},{"x":2420,"z":-6,"q":50},{"x":2420,"z":-8,"q":50},{"x":2420,"z":-10,"q":50},{"x":2420,"z":-12,"q":50},{"x":2420,"z":-14,"q":33.2},{"x":2420,"z":-16,"q":20.4},{"x":2420,"z":-18,"q":16.3},{"x":2420,"z":-20,"q":14.4},{"x":2420,"z":-22.5,"q":14},{"x":2420,"z":-25.5,"q":14.5},{"x":2420,"z":-28.5,"q":14.5},{"x":2420,"z":-31.5,"q":14.5},{"x":2420,"z":-34.5,"q":14.5},{"x":2420,"z":-37.5,"q":14.5},{"x":2420,"z":-40.5,"q":14.5},{"x":2420,"z":-43.5,"q":15.5},{"x":2420,"z":-46.5,"q":16.5},{"x":2420,"z":-49.5,"q":17.5},{"x":2420,"z":-52.5,"q":18},{"x":2420,"z":-55.5,"q":19},{"x":2420,"z":-58.5,"q":20},{"x":2420,"z":-61.5,"q":20},{"x":2420,"z":-64.5,"q":19},{"x":2420,"z":-67.5,"q":18},{"x":2420,"z":-70.5,"q":17.5},{"x":2420,"z":-73.5,"q":16.5},
{"x":2425,"z":-4,"q":50},{"x":2425,"z":-6,"q":50},{"x":2425,"z":-8,"q":50},{"x":2425,"z":-10,"q":50},{"x":2425,"z":-12,"q":50},{"x":2425,"z":-14,"q":38.2},{"x":2425,"z":-16,"q":22.6},{"x":2425,"z":-18,"q":17},{"x":2425,"z":-20,"q":14.9},{"x":2425,"z":-22.5,"q":14},{"x":2425,"z":-25.5,"q":14.5},{"x":2425,"z":-28.5,"q":14.5},{"x":2425,"z":-31.5,"q":14.5},{"x":2425,"z":-34.5,"q":14.5},{"x":2425,"z":-37.5,"q":14.5},{"x":2425,"z":-40.5,"q":14.5},{"x":2425,"z":-43.5,"q":15.5},{"x":2425,"z":-46.5,"q":16.5},{"x":2425,"z":-49.5,"q":17.5},{"x":2425,"z":-52.5,"q":18.5},{"x":2425,"z":-55.5,"q":19.5},{"x":2425,"z":-58.5,"q":21},{"x":2425,"z":-61.5,"q":21},{"x":2425,"z":-64.5,"q":19.5},{"x":2425,"z":-67.5,"q":18.5},{"x":2425,"z":-70.5,"q":17.5},{"x":2425,"z":-73.5,"q":16.5},
{"x":2430,"z":-4,"q":50},{"x":2430,"z":-6,"q":50},{"x":2430,"z":-8,"q":50},{"x":2430,"z":-10,"q":49},{"x":2430,"z":-12,"q":35},{"x":2430,"z":-14,"q":21},{"x":2430,"z":-16,"q":16.5},{"x":2430,"z":-18,"q":14.5},{"x":2430,"z":-20,"q":13},{"x":2430,"z":-22.5,"q":12},{"x":2430,"z":-25.5,"q":12},{"x":2430,"z":-28.5,"q":12},{"x":2430,"z":-31.5,"q":12},{"x":2430,"z":-34.5,"q":12},{"x":2430,"z":-37.5,"q":12},{"x":2430,"z":-40.5,"q":12},{"x":2430,"z":-43.5,"q":12},{"x":2430,"z":-46.5,"q":12.5},{"x":2430,"z":-49.5,"q":13},{"x":2430,"z":-52.5,"q":13.5},{"x":2430,"z":-55.5,"q":14},{"x":2430,"z":-58.5,"q":14},{"x":2430,"z":-61.5,"q":14},{"x":2430,"z":-64.5,"q":14},{"x":2430,"z":-67.5,"q":13.5},{"x":2430,"z":-70.5,"q":13},{"x":2430,"z":-73.5,"q":12.5},
{"x":2435,"z":-4,"q":50},{"x":2435,"z":-6,"q":50},{"x":2435,"z":-8,"q":47},{"x":2435,"z":-10,"q":30.5},{"x":2435,"z":-12,"q":19.5},{"x":2435,"z":-14,"q":16},{"x":2435,"z":-16,"q":14.2},{"x":2435,"z":-18,"q":13},{"x":2435,"z":-20,"q":12},{"x":2435,"z":-22.5,"q":11},{"x":2435,"z":-25.5,"q":10.3},{"x":2435,"z":-28.5,"q":10.3},{"x":2435,"z":-31.5,"q":10.3},{"x":2435,"z":-34.5,"q":10.3},{"x":2435,"z":-37.5,"q":10.3},{"x":2435,"z":-40.5,"q":10.3},{"x":2435,"z":-43.5,"q":10.3},{"x":2435,"z":-46.5,"q":10.3},{"x":2435,"z":-49.5,"q":10.3},{"x":2435,"z":-52.5,"q":10.3},{"x":2435,"z":-55.5,"q":10.3},{"x":2435,"z":-58.5,"q":10.3},{"x":2435,"z":-61.5,"q":10.3},{"x":2435,"z":-64.5,"q":10.3},{"x":2435,"z":-67.5,"q":10.3},{"x":2435,"z":-70.5,"q":10.3},{"x":2435,"z":-73.5,"q":10.3},
{"x":2440,"z":-4,"q":50},{"x":2440,"z":-6,"q":49},{"x":2440,"z":-8,"q":33},{"x":2440,"z":-10,"q":20.4},{"x":2440,"z":-12,"q":16.3},{"x":2440,"z":-14,"q":14.4},{"x":2440,"z":-16,"q":13},{"x":2440,"z":-18,"q":12},{"x":2440,"z":-20,"q":11.5},{"x":2440,"z":-22.5,"q":11},{"x":2440,"z":-25.5,"q":10.8},{"x":2440,"z":-28.5,"q":10.8},{"x":2440,"z":-31.5,"q":10.8},{"x":2440,"z":-34.5,"q":10.8},{"x":2440,"z":-37.5,"q":10.8},{"x":2440,"z":-40.5,"q":10.8},{"x":2440,"z":-43.5,"q":10.8},{"x":2440,"z":-46.5,"q":10.8},{"x":2440,"z":-49.5,"q":10.8},{"x":2440,"z":-52.5,"q":10.8},{"x":2440,"z":-55.5,"q":10.8},{"x":2440,"z":-58.5,"q":10.8},{"x":2440,"z":-61.5,"q":10.8},{"x":2440,"z":-64.5,"q":10.8},{"x":2440,"z":-67.5,"q":10.8},{"x":2440,"z":-70.5,"q":10.8},{"x":2440,"z":-73.5,"q":10.8}
]},
"encoding": {
  "color": {"field": "q", "type": "quantitative",
    "scale": {"type": "linear",
      "domain": [2, 3.5, 5, 7.5, 10, 12.5, 15, 17.5, 20, 22.5, 25, 27.5, 30, 32.5, 35, 37.5, 40, 42.5, 45, 47.5, 50],
      "range": ["#ffffff", "#e4e4fb", "#b0b0f6", "#5a5af4", "#0000ff", "#0060ff", "#00b4ff", "#00f8f8", "#00e8b8", "#00c878", "#00a840", "#10a000", "#70c000", "#c0e000", "#fff200", "#ffb000", "#ff6000", "#ff1000", "#c00000", "#600000", "#000000"]},
    "legend": {"orient": "none", "legendX": -162.5, "legendY": 259, "direction": "horizontal", "type": "gradient",
      "gradientLength": 446, "gradientThickness": 27, "gradientStrokeColor": "#b0b0b0", "gradientStrokeWidth": 1,
      "values": [5, 10, 15, 20, 25, 30, 35, 40, 45, 50], "labelAlign": "center", "labelOffset": 18, "labelOverlap": false,
      "labelFontSize": 17, "labelFontWeight": "bold", "labelColor": "black",
      "title": "Qs", "titleOrient": "left", "titleFontSize": 17, "titleFontWeight": "bold", "titleColor": "black",
      "titlePadding": 115, "titleAnchor": "end", "titleBaseline": "top"}}
},
"layer": [
  {"transform": [{"filter": "datum.z > -21"}],
   "mark": {"type": "rect", "width": 9.8, "height": 5.4, "clip": true},
   "encoding": {
     "x": {"field": "x", "type": "quantitative", "scale": {"domain": [2249, 2440], "nice": false, "zero": false},
       "axis": {"orient": "bottom", "values": [2250, 2300, 2350, 2400], "format": "d", "title": "X (stations, 1 st = \u00a010 m)", "grid": false, "domain": false,
         "tickSize": 7, "tickColor": "#aaaaaa", "labelPadding": 9, "labelFontSize": 17, "labelFontWeight": "bold", "labelColor": "black", "labelFlush": false,
         "titleFontSize": 17, "titleFontWeight": "bold", "titleColor": "black", "titlePadding": 9}},
     "y": {"field": "z", "type": "quantitative", "scale": {"domain": [-75, -3.4], "nice": false, "zero": false},
       "axis": {"orient": "left", "values": [-20, -40, -60], "format": "d", "title": "Z (m)", "grid": false, "domain": false,
         "tickSize": 7, "tickColor": "#aaaaaa", "labelPadding": 1, "labelFontSize": 17, "labelFontWeight": "bold", "labelColor": "black",
         "titleFontSize": 17, "titleFontWeight": "bold", "titleColor": "black", "titlePadding": 11}}
   }},
  {"transform": [{"filter": "datum.z < -21"}],
   "mark": {"type": "rect", "width": 9.8, "height": 7.9, "clip": true},
   "encoding": {
     "x": {"field": "x", "type": "quantitative", "scale": {"domain": [2249, 2440], "nice": false, "zero": false},
       "axis": {"orient": "top", "values": [2250, 2300, 2350, 2400], "labels": false, "title": null, "grid": false, "domain": false, "tickSize": 7, "tickColor": "#aaaaaa"}},
     "y": {"field": "z", "type": "quantitative", "scale": {"domain": [-75, -3.4], "nice": false, "zero": false},
       "axis": {"orient": "right", "values": [-20, -40, -60], "labels": false, "title": null, "grid": false, "domain": false, "tickSize": 7, "tickColor": "#aaaaaa"}}
   }}
],
"resolve": {"axis": {"x": "independent", "y": "independent"}}
}
